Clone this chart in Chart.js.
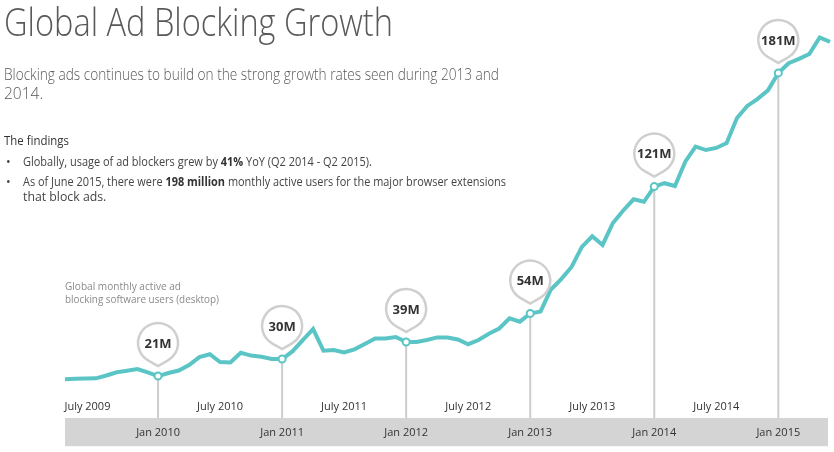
<!DOCTYPE html>
<html>
<head>
<meta charset="utf-8">
<script src="https://cdn.jsdelivr.net/npm/chart.js@4.4.0/dist/chart.umd.min.js"></script>
<style>
  body { margin: 0; background: #fff; }
  #wrap { position: relative; width: 834px; height: 452px; overflow: hidden; font-family: 'Open Sans', sans-serif; }
  #chart { position: absolute; left: 0; top: 0; }
  .txt { position: absolute; white-space: nowrap; transform-origin: 0 0; }
  .title { left: 4px; top: 2px; font-size: 38px; line-height: 38px; font-weight: 300; color: #58595b; }
  .sub { left: 4px; font-size: 15.5px; line-height: 19px; font-weight: 300; color: #58595b; }
  .head { left: 4px; top: 133px; font-size: 12.5px; line-height: 15px; color: #333; }
  .bul { left: 23px; font-size: 12.3px; line-height: 15px; color: #444; }
  .dot { left: 6px; font-size: 12.3px; line-height: 15px; color: #444; }
  .bul b { color: #333; }
  .note { left: 65px; font-size: 11px; line-height: 12.3px; color: #8a8a8a; }
</style>
</head>
<body>
<div id="wrap">
  <!-- a little wider than the page: the axis tick padding eats into the right edge -->
  <canvas id="chart" width="838" height="452"></canvas>
  <div class="txt title" data-w="389">Global Ad Blocking Growth</div>
  <div class="txt sub" style="top:65px" data-w="495">Blocking ads continues to build on the strong growth rates seen during 2013 and</div>
  <div class="txt sub" style="top:84px">2014.</div>
  <div class="txt head" data-w="65">The findings</div>
  <div class="txt dot" style="top:154px">•</div>
  <div class="txt bul" style="top:154px" data-w="349">Globally, usage of ad blockers grew by <b>41%</b> YoY (Q2 2014 - Q2 2015).</div>
  <div class="txt dot" style="top:174px">•</div>
  <div class="txt bul" style="top:174px" data-w="483">As of June 2015, there were <b>198 million</b> monthly active users for the major browser extensions</div>
  <div class="txt bul" style="top:188.5px">that block ads.</div>
  <div class="txt note" style="top:280px" data-w="116">Global monthly active ad</div>
  <div class="txt note" style="top:292.5px" data-w="154">blocking software users (desktop)</div>
</div>
<script>
// monthly, April 2009 .. June 2015 (millions of users)
const monthNames = ['Jan', 'Feb', 'Mar', 'Apr', 'May', 'Jun', 'Jul', 'Aug', 'Sep', 'Oct', 'Nov', 'Dec'];
const months = [];
for (let i = 0; i < 75; i++) {
  const m = (3 + i) % 12;
  const y = 2009 + Math.floor((3 + i) / 12);
  months.push(monthNames[m] + ' ' + y);
}

const users = [19.3, 19.6, 19.7, 19.8, 21.3, 23.0, 23.8, 24.7, 22.9,
  21.0, 22.6, 23.9, 26.8, 31.0, 32.5, 28.4, 28.2, 33.3, 31.8, 31.2, 30.0,
  30.0, 34.0, 40.0, 45.8, 34.4, 34.7, 33.5, 35.1, 37.9, 40.8, 40.8, 41.6,
  39.0, 39.0, 40.0, 41.4, 41.3, 40.3, 37.8, 40.0, 43.3, 46.1, 51.5, 49.7,
  54.0, 55.1, 66.7, 72.2, 78.6, 89.2, 94.8, 90.2, 101.8, 108.4, 114.3, 113.0,
  121.0, 122.8, 121.3, 134.2, 142.1, 140.3, 141.4, 144.0, 157.2, 163.6, 167.3, 171.8,
  181.0, 186.1, 188.4, 191.0, 199.7, 197.4];

const julyTicks = ['July 2009', 'July 2010', 'July 2011', 'July 2012', 'July 2013', 'July 2014'];
const janTicks = ['Jan 2010', 'Jan 2011', 'Jan 2012', 'Jan 2013', 'Jan 2014', 'Jan 2015'];

const calloutMonths = ['Jan 2010', 'Jan 2011', 'Jan 2012', 'Jan 2013', 'Jan 2014', 'Jan 2015'];
const calloutLabels = ['21M', '30M', '39M', '54M', '121M', '181M'];

const teal = '#5bc5c6';
const calloutIdx = calloutMonths.map(m => months.indexOf(m));

// gray band behind the Jan axis
const band = {
  id: 'band',
  beforeDraw(chart) {
    const { ctx, scales: { x2 } } = chart;
    ctx.save();
    ctx.fillStyle = '#d4d4d4';
    ctx.fillRect(x2.left, x2.top, x2.width - 2, x2.height - 1);
    ctx.restore();
  }
};

// vertical guide lines from the Jan points down to the band
const guides = {
  id: 'guides',
  beforeDatasetsDraw(chart) {
    const { ctx, scales: { x, y, x2 } } = chart;
    ctx.save();
    ctx.strokeStyle = '#cccccc';
    ctx.lineWidth = 2;
    calloutIdx.forEach(i => {
      const px = x.getPixelForValue(i);
      const py = y.getPixelForValue(users[i]);
      ctx.beginPath();
      ctx.moveTo(px, py);
      ctx.lineTo(px, x2.top);
      ctx.stroke();
    });
    ctx.restore();
  }
};

// speech-bubble callouts above the Jan points
const callouts = {
  id: 'callouts',
  afterDatasetsDraw(chart) {
    const { ctx, scales: { x, y } } = chart;
    const r = 20, a = 0.5;
    ctx.save();
    calloutIdx.forEach((i, k) => {
      const px = x.getPixelForValue(i);
      const py = y.getPixelForValue(users[i]);
      const cx = px, cy = py - 33;
      ctx.beginPath();
      ctx.arc(cx, cy, r, Math.PI / 2 + a, Math.PI / 2 - a + Math.PI * 2);
      ctx.lineTo(cx, py - 10);
      ctx.closePath();
      ctx.fillStyle = '#fff';
      ctx.fill();
      ctx.strokeStyle = '#cfcfcf';
      ctx.lineWidth = 2.5;
      ctx.stroke();
      ctx.fillStyle = '#333';
      ctx.font = "bold 13px 'Open Sans', sans-serif";
      ctx.textAlign = 'center';
      ctx.textBaseline = 'middle';
      ctx.fillText(calloutLabels[k], cx, cy + 1);
    });
    ctx.restore();
  }
};

new Chart(document.getElementById('chart').getContext('2d'), {
  type: 'line',
  data: {
    labels: months,
    datasets: [{
      label: 'Global monthly active ad blocking software users (desktop)',
      data: users,
      borderColor: teal,
      borderWidth: 4,
      tension: 0,
      fill: false,
      pointRadius: c => calloutIdx.includes(c.dataIndex) ? 3.5 : 0,
      pointBackgroundColor: '#fff',
      pointBorderColor: teal,
      pointBorderWidth: 2,
      pointHoverRadius: 0
    }]
  },
  options: {
    responsive: false,
    animation: false,
    events: [],
    layout: { padding: { left: 65, right: 0, top: 18, bottom: 4.8 } },
    scales: {
      x: {
        type: 'category',
        position: 'bottom',
        weight: 0,
        grid: { display: false, drawTicks: false },
        border: { display: false },
        ticks: {
          autoSkip: false,
          maxRotation: 0,
          padding: 4.9,
          color: '#333',
          font: { family: "'Open Sans', sans-serif", size: 11 },
          callback: (v, i) => {
            const lab = months[i];
            if (!lab.startsWith('Jul')) return '';
            const t = julyTicks.find(s => s.slice(-4) === lab.slice(-4)) || '';
            // first label sits flush with the left edge in the original
            return t === julyTicks[0] ? t + '\u00a0'.repeat(6) : t;
          }
        }
      },
      x2: {
        type: 'category',
        position: 'bottom',
        weight: 1,
        grid: { display: false, drawTicks: false },
        border: { display: false },
        ticks: {
          autoSkip: false,
          maxRotation: 0,
          padding: 8,
          color: '#333',
          font: { family: "'Open Sans', sans-serif", size: 11 },
          callback: (v, i) => {
            const lab = months[i];
            return janTicks.includes(lab) ? lab : '';
          }
        }
      },
      y: {
        display: false,
        min: 11,
        max: 210
      }
    },
    plugins: {
      legend: { display: false },
      tooltip: { enabled: false },
      title: { display: false }
    }
  },
  plugins: [band, guides, callouts]
});

// squeeze the header texts to the widths of the original typeface
document.querySelectorAll('[data-w]').forEach(el => {
  const w = el.getBoundingClientRect().width;
  el.style.transform = 'scaleX(' + (+el.dataset.w / w) + ')';
});
</script>
</body>
</html>
